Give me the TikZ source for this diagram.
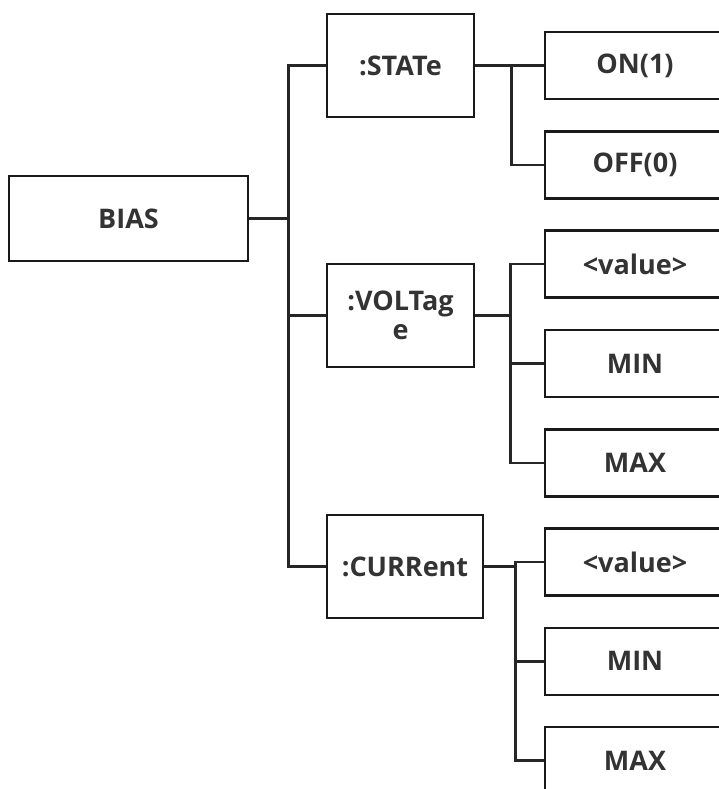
\documentclass[tikz,border=0pt]{standalone}
\usepackage{fontspec}
\setmainfont{Open Sans}
\usetikzlibrary{positioning}

\begin{document}
\begin{tikzpicture}[x=1pt,y=-1pt,on grid,node distance=99.3pt,
	cmd/.style={draw=black!90,line width=2.6pt,rectangle,inner sep=0pt,align=center,
		text=black!80,font=\bfseries\fontsize{27}{29}\selectfont},
	root/.style={cmd,minimum width=239pt,minimum height=85pt},
	sub/.style={cmd,minimum width=147pt,minimum height=103pt},
	opt/.style={cmd,minimum width=180pt,minimum height=67pt},
	link/.style={draw=black!85,line width=2.4pt}]
	\useasboundingbox (0,0) rectangle (719,789);
	\clip (0,0) rectangle (719,789);
	
	% option column
	\node[opt] (on) at (635,65.5) {ON(1)};
	\node[opt, below= of on] (off) {OFF(0)};
	\node[opt, below= of off] (vval) {<value>};
	\node[opt, below= of vval] (vmin) {MIN};
	\node[opt, below= of vmin] (vmax) {MAX};
	\node[opt, below= of vmax] (cval) {<value>};
	\node[opt, below= of cval] (cmin) {MIN};
	\node[opt, below= of cmin] (cmax) {MAX};
	
	% subsystems
	\node[sub] (state) at (400.5,65.5) {:STATe};
	\node[sub] (volt) at (400.5,315.5) {:VOLTag\\e};
	\node[sub, minimum width=156pt] (curr) at (405,566.5) {:CURRent};
	
	\node[root] (bias) at (128.5,218.5) {BIAS};
	
	\foreach \s in {state,volt,curr}
		\draw[link] (bias.east) -- ++(39,0) |- (\s.west);
	\foreach \c in {on,off}
		\draw[link] (state.east) -- ++(36,0) |- (\c.west);
	\foreach \c in {vval,vmin,vmax}
		\draw[link] (volt.east) -- ++(35,0) |- (\c.west);
	\foreach \c in {cval,cmin,cmax}
		\draw[link] (curr.east) -- ++(31,0) |- (\c.west);
\end{tikzpicture}
\end{document}
